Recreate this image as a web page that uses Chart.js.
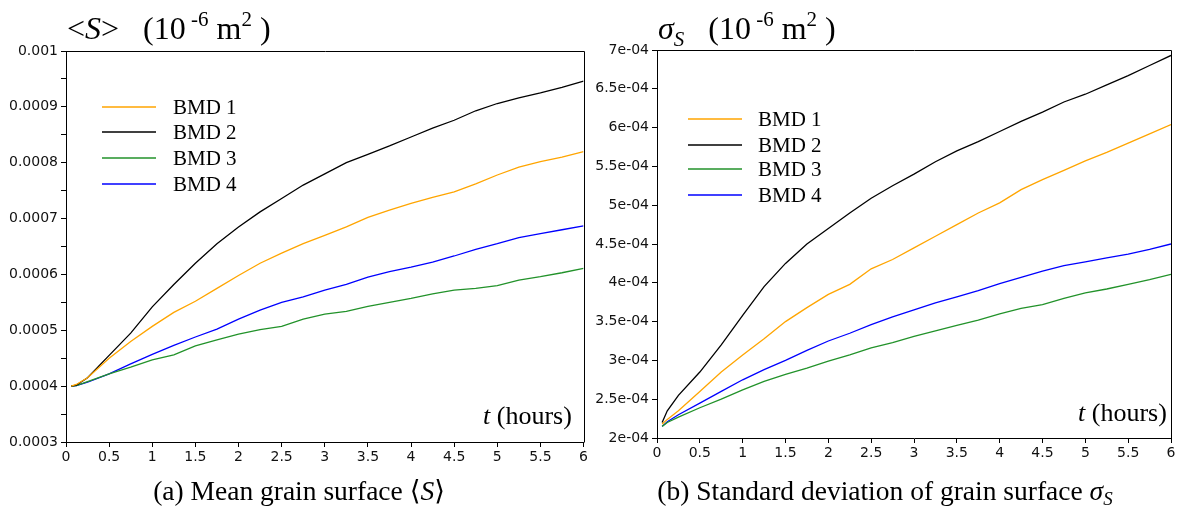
<!DOCTYPE html>
<html>
<head>
<meta charset="utf-8">
<script src="https://cdn.jsdelivr.net/npm/chart.js@4.4.1/dist/chart.umd.min.js"></script>
<style>
  html,body{margin:0;padding:0;background:#fff;}
  #wrap{position:relative;width:1180px;height:511px;overflow:hidden;}
  canvas{position:absolute;top:0;}
  .serif{position:absolute;font-family:"Liberation Serif","DejaVu Serif",serif;color:#000;white-space:nowrap;}
  .title{font-size:32px;line-height:32px;top:12px;}
  .title sup{font-size:21px;vertical-align:0;position:relative;top:-13px;}
  .title sub{font-size:21px;vertical-align:0;position:relative;top:7px;}
  .cap{font-size:27.5px;line-height:27.5px;top:477px;text-align:center;width:590px;}
  .cap sub{font-size:19px;vertical-align:0;position:relative;top:5px;}
  .tl{font-size:26px;line-height:26px;}
</style>
</head>
<body>
<div id="wrap">
  <canvas id="cL" width="590" height="511" style="left:0"></canvas>
  <canvas id="cR" width="590" height="511" style="left:590px"></canvas>

  <div class="serif title" style="left:67px">&lt;<i>S</i>&gt;&nbsp;&nbsp;&nbsp;(10<sup> -6</sup> m<sup>2</sup> )</div>
  <div class="serif title" style="left:658px"><i>σ<sub>S</sub></i>&nbsp;&nbsp;&nbsp;(10<sup> -6</sup> m<sup>2</sup> )</div>

  <div class="serif tl" style="left:483px;top:403px"><i>t</i> (hours)</div>
  <div class="serif tl" style="left:1078px;top:400px"><i>t</i> (hours)</div>

  <div class="serif cap" style="left:4px">(a) Mean grain surface ⟨<i>S</i>⟩</div>
  <div class="serif cap" style="left:590px">(b) Standard deviation of grain surface <i>σ<sub>S</sub></i></div>
</div>
<script>
// ---- data ----
const timeHours = [0.06, 0.12, 0.25, 0.5, 0.75, 1, 1.25, 1.5, 1.75, 2, 2.25, 2.5, 2.75, 3, 3.25, 3.5, 3.75, 4, 4.25, 4.5, 4.75, 5, 5.25, 5.5, 5.75, 6];
const seriesNames = ['BMD 1', 'BMD 2', 'BMD 3', 'BMD 4'];
const seriesColors = ['#ffa500', '#000000', '#22922a', '#0000ff'];

// Mean grain surface <S>
const meanBMD1 = [4.00e-4, 4.03e-4, 4.15e-4, 4.50e-4, 4.80e-4, 5.07e-4, 5.32e-4, 5.52e-4, 5.75e-4, 5.98e-4, 6.20e-4, 6.38e-4, 6.55e-4, 6.70e-4, 6.85e-4, 7.02e-4, 7.15e-4, 7.27e-4, 7.38e-4, 7.48e-4, 7.62e-4, 7.78e-4, 7.92e-4, 8.02e-4, 8.10e-4, 8.20e-4];
const meanBMD2 = [4.00e-4, 4.02e-4, 4.15e-4, 4.55e-4, 4.95e-4, 5.42e-4, 5.82e-4, 6.20e-4, 6.55e-4, 6.85e-4, 7.12e-4, 7.36e-4, 7.60e-4, 7.80e-4, 8.00e-4, 8.15e-4, 8.30e-4, 8.46e-4, 8.62e-4, 8.76e-4, 8.93e-4, 9.06e-4, 9.16e-4, 9.25e-4, 9.35e-4, 9.46e-4];
const meanBMD3 = [4.00e-4, 4.01e-4, 4.08e-4, 4.22e-4, 4.34e-4, 4.47e-4, 4.56e-4, 4.72e-4, 4.83e-4, 4.93e-4, 5.01e-4, 5.07e-4, 5.20e-4, 5.29e-4, 5.34e-4, 5.43e-4, 5.50e-4, 5.57e-4, 5.65e-4, 5.72e-4, 5.75e-4, 5.80e-4, 5.90e-4, 5.96e-4, 6.03e-4, 6.11e-4];
const meanBMD4 = [4.00e-4, 4.01e-4, 4.07e-4, 4.22e-4, 4.40e-4, 4.57e-4, 4.73e-4, 4.88e-4, 5.02e-4, 5.20e-4, 5.36e-4, 5.50e-4, 5.60e-4, 5.72e-4, 5.82e-4, 5.95e-4, 6.05e-4, 6.13e-4, 6.22e-4, 6.33e-4, 6.45e-4, 6.55e-4, 6.66e-4, 6.73e-4, 6.80e-4, 6.87e-4];

// Standard deviation sigma_S
const sdBMD1 = [2.18e-4, 2.24e-4, 2.35e-4, 2.60e-4, 2.85e-4, 3.07e-4, 3.28e-4, 3.50e-4, 3.68e-4, 3.85e-4, 3.98e-4, 4.18e-4, 4.30e-4, 4.45e-4, 4.60e-4, 4.75e-4, 4.90e-4, 5.03e-4, 5.20e-4, 5.33e-4, 5.45e-4, 5.57e-4, 5.68e-4, 5.80e-4, 5.92e-4, 6.04e-4];
const sdBMD2 = [2.20e-4, 2.35e-4, 2.55e-4, 2.85e-4, 3.20e-4, 3.58e-4, 3.95e-4, 4.25e-4, 4.50e-4, 4.70e-4, 4.90e-4, 5.09e-4, 5.25e-4, 5.40e-4, 5.56e-4, 5.70e-4, 5.82e-4, 5.95e-4, 6.08e-4, 6.20e-4, 6.33e-4, 6.43e-4, 6.55e-4, 6.67e-4, 6.80e-4, 6.93e-4];
const sdBMD3 = [2.15e-4, 2.20e-4, 2.27e-4, 2.39e-4, 2.50e-4, 2.62e-4, 2.73e-4, 2.82e-4, 2.90e-4, 2.99e-4, 3.07e-4, 3.16e-4, 3.23e-4, 3.31e-4, 3.38e-4, 3.45e-4, 3.52e-4, 3.60e-4, 3.67e-4, 3.72e-4, 3.80e-4, 3.87e-4, 3.92e-4, 3.98e-4, 4.04e-4, 4.11e-4];
const sdBMD4 = [2.15e-4, 2.21e-4, 2.30e-4, 2.45e-4, 2.60e-4, 2.75e-4, 2.88e-4, 3.00e-4, 3.13e-4, 3.25e-4, 3.35e-4, 3.46e-4, 3.56e-4, 3.65e-4, 3.74e-4, 3.82e-4, 3.90e-4, 3.99e-4, 4.07e-4, 4.15e-4, 4.22e-4, 4.27e-4, 4.32e-4, 4.37e-4, 4.43e-4, 4.50e-4];

// tick labels
const xTickLabels = ['0', '0.5', '1', '1.5', '2', '2.5', '3', '3.5', '4', '4.5', '5', '5.5', '6'];
const meanTickLabels = ['0.0003', '0.0004', '0.0005', '0.0006', '0.0007', '0.0008', '0.0009', '0.001'];
const sdTickLabels = ['2e-04', '2.5e-04', '3e-04', '3.5e-04', '4e-04', '4.5e-04', '5e-04', '5.5e-04', '6e-04', '6.5e-04', '7e-04'];

// ---- helpers ----
function makeDatasets(arrs) {
  return arrs.map((vals, k) => ({
    label: seriesNames[k],
    data: timeHours.map((t, i) => ({ x: t, y: vals[i] })),
    borderColor: seriesColors[k],
    backgroundColor: seriesColors[k],
    borderWidth: 1.3,
    pointRadius: 0,
    tension: 0,
    fill: false
  }));
}

const boxPlugin = {
  id: 'box',
  afterDraw(chart) {
    const a = chart.chartArea, c = chart.ctx;
    c.save();
    c.strokeStyle = '#000';
    c.lineWidth = 1;
    c.beginPath();
    c.moveTo(Math.round(a.left) + 0.5, Math.round(a.top) + 0.5);
    c.lineTo(Math.round(a.right) + 0.5, Math.round(a.top) + 0.5);
    c.lineTo(Math.round(a.right) + 0.5, Math.round(a.bottom) + 0.5);
    c.stroke();
    c.restore();
  }
};

function legendPlugin(lineX0, lineX1, textX, rowY) {
  return {
    id: 'customLegend',
    afterDatasetsDraw(chart) {
      const a = chart.chartArea, c = chart.ctx;
      c.save();
      c.font = '21px "Liberation Serif", "DejaVu Serif", serif';
      c.textBaseline = 'middle';
      c.fillStyle = '#000';
      chart.data.datasets.forEach((ds, i) => {
        const y = a.top + rowY[i];
        c.strokeStyle = ds.borderColor;
        c.lineWidth = 1.5;
        c.beginPath();
        c.moveTo(a.left + lineX0, y);
        c.lineTo(a.left + lineX1, y);
        c.stroke();
        c.fillText(ds.label, a.left + textX, y + 1);
      });
      c.restore();
    }
  };
}

const tickFont = { family: '"DejaVu Sans", sans-serif', size: 14 };

function makeChart(id, datasets, opts) {
  return new Chart(document.getElementById(id), {
    type: 'line',
    data: { datasets },
    options: {
      responsive: false,
      animation: false,
      layout: { padding: opts.padding },
      plugins: { legend: { display: false }, tooltip: { enabled: false } },
      scales: {
        x: {
          type: 'linear', min: 0, max: 6,
          ticks: {
            stepSize: 0.5, autoSkip: false, maxRotation: 0, padding: 2,
            color: '#111', font: tickFont,
            callback: (v, i) => xTickLabels[i]
          },
          grid: { drawOnChartArea: false, tickLength: 5, color: '#000' },
          border: { color: '#000', width: 1 },
          afterFit: s => { s.height = opts.xHeight; }
        },
        y: {
          type: 'linear', min: opts.ymin, max: opts.ymax,
          ticks: {
            stepSize: opts.ystep, autoSkip: false, padding: 3,
            color: '#111', font: tickFont,
            callback: opts.ycb
          },
          grid: { drawOnChartArea: false, tickLength: 5, color: '#000' },
          border: { color: '#000', width: 1 },
          afterFit: s => { s.width = opts.yWidth; }
        }
      }
    },
    plugins: [boxPlugin, opts.legend]
  });
}

makeChart('cL', makeDatasets([meanBMD1, meanBMD2, meanBMD3, meanBMD4]), {
  padding: { top: 51, right: 5, left: 0, bottom: 0 },
  xHeight: 69, yWidth: 66,
  ymin: 0.0003, ymax: 0.001, ystep: 0.00005,
  ycb: (v, i) => (i % 2 === 0 ? meanTickLabels[i / 2] : ''),
  legend: legendPlugin(36, 90, 107, [56, 81, 107, 133])
});

makeChart('cR', makeDatasets([sdBMD1, sdBMD2, sdBMD3, sdBMD4]), {
  padding: { top: 50, right: 9, left: 0, bottom: 0 },
  xHeight: 73, yWidth: 67,
  ymin: 0.0002, ymax: 0.0007, ystep: 0.00005,
  ycb: (v, i) => sdTickLabels[i],
  legend: legendPlugin(31, 85, 101, [69, 95, 119, 145])
});
</script>
</body>
</html>
